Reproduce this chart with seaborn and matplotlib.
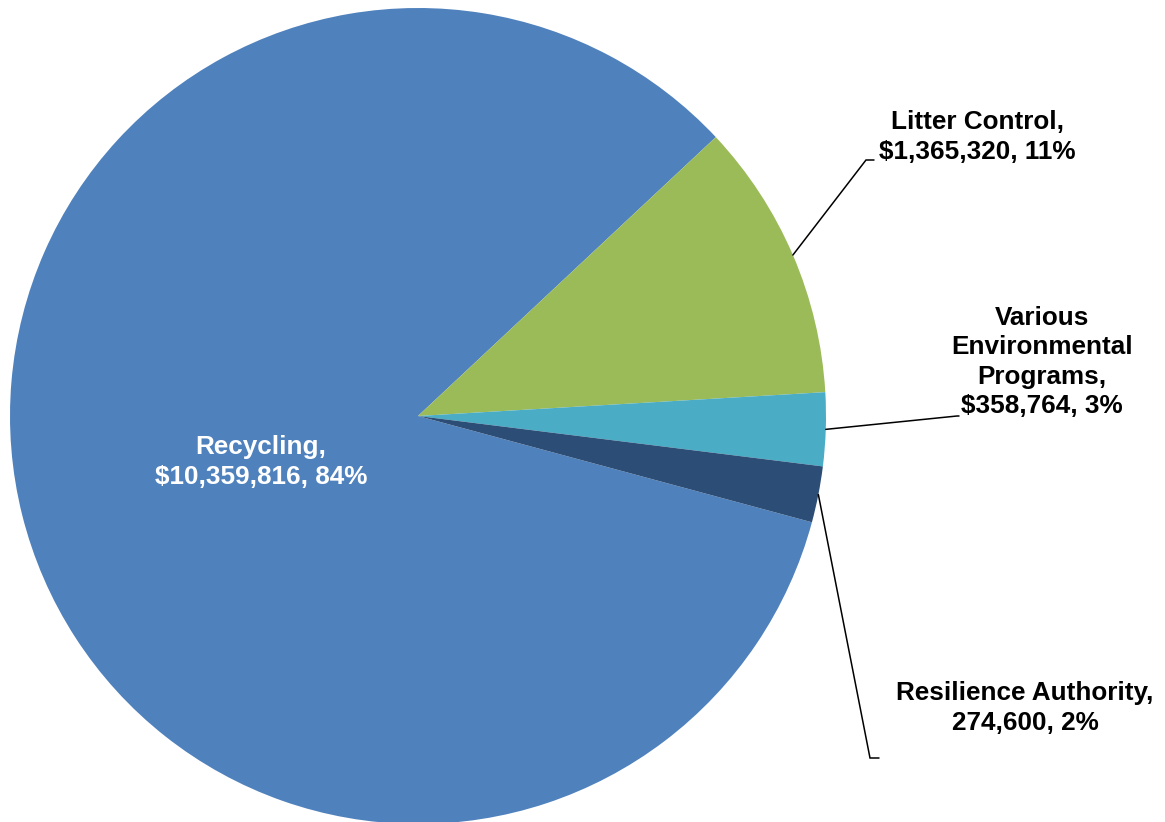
import numpy as np
import matplotlib
matplotlib.use("Agg")
import matplotlib.pyplot as plt
import seaborn as sns

# ---- data ----
categories = ["Recycling", "Litter Control", "Various Environmental Programs", "Resilience Authority"]
values = [10359816, 1365320, 358764, 274600]
label_texts = [
    "Recycling,\n$10,359,816, 84%",
    "Litter Control,\n$1,365,320, 11%",
    "Various\nEnvironmental\nPrograms,\n$358,764, 3%",
    "Resilience Authority,\n274,600, 2%",
]
colors = ["#4F81BD", "#9BBB59", "#4BACC6", "#2C4D75"]

sns.set_theme(style="white")
plt.rcParams["font.family"] = ["Liberation Sans", "DejaVu Sans"]

W, H = 1165, 822
fig = plt.figure(figsize=(W / 100, H / 100), dpi=100)
cx, cy, R = 418, 416, 408
ax = fig.add_axes([(cx - R) / W, (H - cy - R) / H, 2 * R / W, 2 * R / H])

wedges, _ = ax.pie(values, colors=colors, startangle=-15.1, counterclock=False,
                   radius=1.0, wedgeprops=dict(edgecolor="none", linewidth=0))
ax.set_xlim(-1, 1)
ax.set_ylim(-1, 1)
ax.set_aspect("equal")
ax.axis("off")

def px(x, y):
    return ((x - cx) / R, (cy - y) / R)

fs = 18.8
# label positions (layout)
text_pos = [px(261, 462), px(977.5, 137), px(1042, 362), px(1025, 708)]
text_col = ["white", "black", "black", "black"]
for t, p, c in zip(label_texts, text_pos, text_col):
    ax.text(p[0], p[1], t, ha="center", va="center", fontsize=fs, fontweight="bold",
            color=c, linespacing=1.27, clip_on=False)

# leader lines: from wedge mid-angle on the edge to label
leader_ends = {1: (px(866, 160), px(874, 160)),
               2: (px(957, 416), px(959, 416)),
               3: (px(870, 758), px(879, 758))}
for i, (e1, e2) in leader_ends.items():
    w = wedges[i]
    mid = np.deg2rad((w.theta1 + w.theta2) / 2)
    x0, y0 = np.cos(mid), np.sin(mid)
    ax.plot([x0, e1[0], e2[0]], [y0, e1[1], e2[1]], color="black", lw=1.1,
            clip_on=False, solid_joinstyle="miter")

fig.savefig("out.png", dpi=100, facecolor="white")
